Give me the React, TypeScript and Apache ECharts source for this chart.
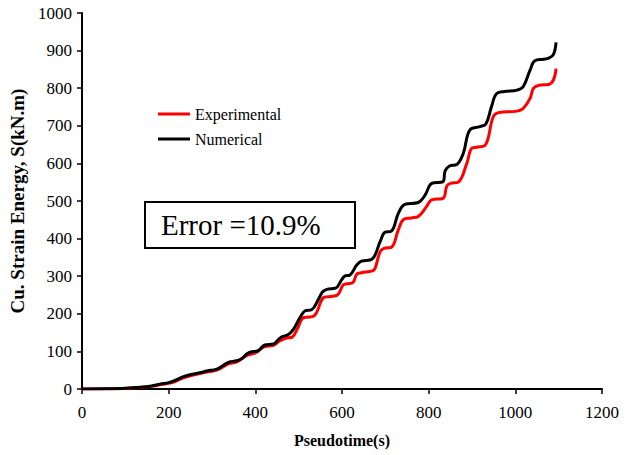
import React, { useEffect, useRef } from "react";
import * as echarts from "echarts";

const xTicks = { min: 0, max: 1200, interval: 200 };
const yTicks = { min: 0, max: 1000, interval: 100 };

const seriesNames = ["Experimental", "Numerical"];

const experimental: [number, number][] = [
  [0, 0], [50, 0.3], [100, 1.5], [134, 4], [160, 7], [180, 11], [200, 15], [215, 20],
  [234, 30], [257, 37], [288, 45], [311, 50], [338, 67], [357, 72], [380, 89], [400, 96],
  [422, 113], [442, 116], [455, 127], [470, 135], [485, 138], [497, 160], [510, 189],
  [520, 191], [535, 194], [556, 242], [565, 245], [588, 249], [603, 277], [612, 280],
  [625, 283], [634, 305], [645, 309], [670, 314], [676, 320], [688, 365], [697, 374],
  [714, 377], [730, 423], [742, 451], [760, 455], [776, 459], [795, 485], [807, 503],
  [833, 507], [842, 540], [850, 547], [868, 550], [888, 600], [899, 640], [910, 643],
  [930, 648], [949, 724], [961, 735], [1004, 739], [1018, 746], [1034, 773], [1042, 800],
  [1055, 808], [1077, 810], [1088, 822], [1094, 852],
];

const numerical: [number, number][] = [
  [0, 0], [50, 0.5], [100, 2], [134, 4.5], [160, 8], [180, 13], [200, 17], [211, 21],
  [225, 28], [234, 33], [257, 40], [275, 44], [288, 48], [311, 53], [325, 62], [338, 71],
  [357, 75], [370, 82], [380, 93], [392, 99], [405, 101], [422, 117], [442, 120],
  [452, 130], [461, 139], [475, 144], [487, 157], [503, 190], [515, 208], [530, 211],
  [545, 237], [555, 258], [565, 265], [585, 268], [599, 290], [607, 301], [618, 303],
  [634, 330], [645, 340], [669, 345], [688, 392], [699, 417], [714, 420], [730, 467],
  [745, 491], [776, 496], [792, 516], [807, 547], [833, 551], [838, 580], [848, 593],
  [865, 597], [880, 627], [895, 689], [918, 698], [932, 705], [945, 751], [957, 786],
  [975, 791], [1004, 795], [1018, 804], [1034, 848], [1045, 873], [1065, 877],
  [1077, 880], [1088, 890], [1094, 922],
];

const errorLabel = "Error =10.9%";
const xName = "Pseudotime(s)";
const yName = "Cu. Strain Energy, S(kN.m)";

const serif = "Liberation Serif";

export default function App() {
  const ref = useRef<HTMLDivElement>(null);
  useEffect(() => {
    if (!ref.current) return;
    const chart = echarts.init(ref.current, null, { renderer: "svg" });
    chart.setOption({
      animation: false,
      backgroundColor: "#ffffff",
      textStyle: { fontFamily: serif },
      grid: { left: 82, right: 28, top: 13, bottom: 66, containLabel: false },
      legend: {
        orient: "vertical",
        left: 153,
        top: 101,
        itemGap: 9,
        itemWidth: 32,
        itemHeight: 3,
        icon: "rect",
        data: seriesNames,
        textStyle: { fontFamily: serif, fontSize: 16, color: "#000" },
      },
      xAxis: {
        type: "value",
        min: xTicks.min,
        max: xTicks.max,
        interval: xTicks.interval,
        name: xName,
        nameLocation: "middle",
        nameGap: 43,
        nameTextStyle: { fontFamily: serif, fontSize: 16, fontWeight: "bold", color: "#000" },
        axisLine: { lineStyle: { color: "#000", width: 2 } },
        axisTick: { show: true, length: 5, lineStyle: { color: "#000", width: 1.5 } },
        axisLabel: {
          fontFamily: serif,
          fontSize: 17,
          color: "#000",
          margin: 15,
          formatter: (v: number) => String(v),
        },
        splitLine: { show: false },
      },
      yAxis: {
        type: "value",
        min: yTicks.min,
        max: yTicks.max,
        interval: yTicks.interval,
        name: yName,
        nameLocation: "middle",
        nameGap: 49,
        nameTextStyle: { fontFamily: serif, fontSize: 19, fontWeight: "bold", color: "#000" },
        axisLine: { show: true, lineStyle: { color: "#000", width: 2 } },
        axisTick: { show: true, length: 5, lineStyle: { color: "#000", width: 1.5 } },
        axisLabel: {
          fontFamily: serif,
          fontSize: 17,
          color: "#000",
          margin: 10,
          formatter: (v: number) => String(v),
        },
        splitLine: { show: false },
      },
      series: [
        {
          name: seriesNames[0],
          type: "line",
          data: experimental,
          showSymbol: false,
          smooth: 0.4,
          color: "#ff0000",
          lineStyle: { color: "#ff0000", width: 3 },
        },
        {
          name: seriesNames[1],
          type: "line",
          data: numerical,
          showSymbol: false,
          smooth: 0.4,
          color: "#000000",
          lineStyle: { color: "#000000", width: 3 },
        },
      ],
      graphic: [
        {
          type: "rect",
          shape: { x: 145, y: 202, width: 210, height: 46 },
          style: { fill: "#fff", stroke: "#000", lineWidth: 2 },
          z: 10,
        },
        {
          type: "text",
          x: 161,
          y: 225,
          style: {
            text: errorLabel,
            fontFamily: serif,
            fontSize: 29,
            fill: "#000",
            verticalAlign: "middle",
            align: "left",
          },
          z: 11,
        },
      ],
    });
    return () => chart.dispose();
  }, []);
  return (
    <div
      ref={ref}
      style={{ position: "absolute", left: 0, top: 0, width: 630, height: 455 }}
    />
  );
}
